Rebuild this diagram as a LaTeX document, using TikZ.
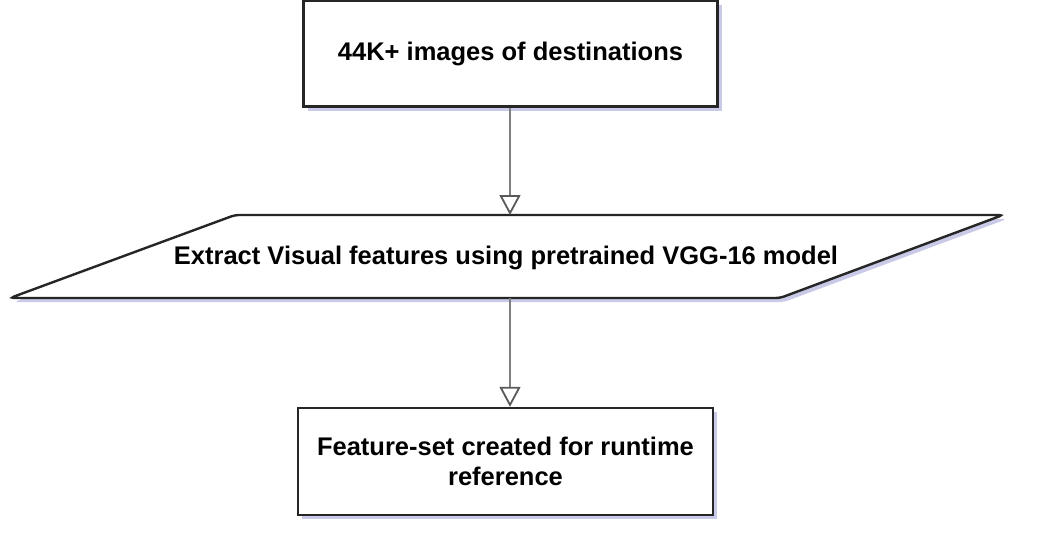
\documentclass[tikz,border=0pt]{standalone}
\usepackage{fontspec}
\setmainfont{Liberation Sans}
\usetikzlibrary{arrows.meta,shadows}
\begin{document}
\begin{tikzpicture}[x=1pt,y=-1pt,
  boxstyle/.style={draw=black!85, line width=2.4pt, fill=white,
    drop shadow={opacity=0.3, shadow xshift=4pt, shadow yshift=-4pt, fill=blue!40!gray}},
  txt/.style={font=\fontsize{25.5}{30}\selectfont\bfseries, align=center, text=black},
  conn/.style={draw=black!50, line width=2.4pt,
    -{Triangle[open, length=20pt, width=21pt, line width=1.8pt, color=black!65]}}]
\useasboundingbox (0,0) rectangle (1037,542);
% top box
\node[boxstyle, txt, minimum width=414pt, minimum height=106pt, inner sep=0pt] (top) at (510.5,53.5) {44K+ images of destinations};
% parallelogram
\path[boxstyle, rounded corners=4pt] (10,298) -- (235,215) -- (1003,215) -- (780,298) -- cycle;
\node[txt, inner sep=0pt] (mid) at (506,258) {Extract Visual features using pretrained VGG-16 model};
\coordinate (midtop) at (510,215);
\coordinate (midbot) at (510,298);
% bottom box
\node[boxstyle, txt, minimum width=415pt, minimum height=107pt, inner sep=0pt] (bot) at (505.5,461.5) {Feature-set created for runtime\\reference};
% connectors
\draw[conn] (top.south -| midtop) -- (midtop);
\draw[conn] (midbot) -- (midbot |- bot.north);
\end{tikzpicture}
\end{document}
